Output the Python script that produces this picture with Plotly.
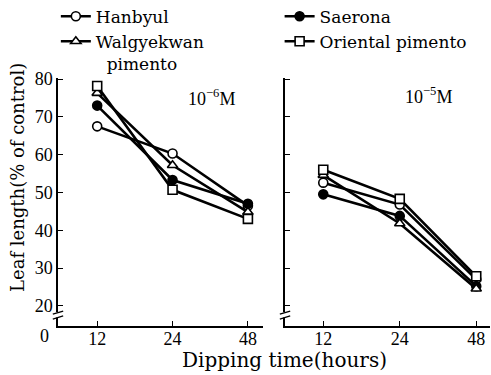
import plotly.graph_objects as go

hours = ["12", "24", "48"]
series_names = ["Hanbyul", "Saerona", "Walgyekwan<br>&nbsp;&nbsp;pimento", "Oriental pimento"]
# 10^-6 M
hanbyul_6 = [67.5, 60.3, 46.5]
saerona_6 = [73.0, 53.3, 47.0]
walgye_6 = [76.3, 57.2, 44.8]
oriental_6 = [78.2, 50.7, 43.0]
# 10^-5 M
hanbyul_5 = [52.6, 46.8, 27.0]
saerona_5 = [49.5, 43.8, 25.2]
walgye_5 = [54.6, 41.8, 24.5]
oriental_5 = [56.0, 48.3, 27.8]

y_tickvals = [20, 30, 40, 50, 60, 70, 80]
y_ticktext = ["20", "30", "40", "50", "60", "70", "80"]

symbols = ["circle-open", "circle", "triangle-up-open", "square-open"]
legend_ids = ["legend", "legend2", "legend", "legend2"]
left_data = [hanbyul_6, saerona_6, walgye_6, oriental_6]
right_data = [hanbyul_5, saerona_5, walgye_5, oriental_5]

FF = "Liberation Serif"
FW = "DejaVu Serif"
fig = go.Figure()
for i, name in enumerate(series_names):
    if symbols[i].endswith("open"):
        mk = dict(symbol=symbols[i].replace("-open", ""), size=9, color="white",
                  line=dict(color="black", width=1.6))
    else:
        mk = dict(symbol=symbols[i], size=9, color="black", line=dict(color="black", width=1.6))
    fig.add_trace(go.Scatter(x=hours, y=left_data[i], mode="lines+markers", name=name,
                             line=dict(color="black", width=2.6), marker=mk,
                             xaxis="x", yaxis="y", legend=legend_ids[i]))
    fig.add_trace(go.Scatter(x=hours, y=right_data[i], mode="lines+markers", name=name,
                             line=dict(color="black", width=2.6), marker=mk,
                             xaxis="x2", yaxis="y2", showlegend=False))

yr = [14.65, 80.3]
axis_common = dict(showline=True, linecolor="black", linewidth=1.5, ticks="inside",
                   ticklen=5, tickwidth=1.3, tickcolor="black", showgrid=False, zeroline=False,
                   tickfont=dict(family=FF, size=18, color="black"))
leg_common = dict(orientation="v", yanchor="top", xanchor="left", xref="paper", yref="paper",
                  font=dict(family=FW, size=17, color="black"), bgcolor="rgba(0,0,0,0)",
                  tracegroupgap=0, traceorder="normal", valign="top")
fig.update_layout(
    width=491, height=375,
    margin=dict(l=58, r=1, t=78, b=49, autoexpand=False),
    plot_bgcolor="white", paper_bgcolor="white",
    font=dict(family=FF, size=17, color="black"),
    xaxis=dict(domain=[0, 0.4745], type="category", range=[-0.52, 2.2], anchor="y",
               ticklabelstandoff=-4, **axis_common),
    xaxis2=dict(domain=[0.5255, 1], type="category", range=[-0.5, 2.18], anchor="y2",
                ticklabelstandoff=-4, **axis_common),
    yaxis=dict(range=yr, tickvals=y_tickvals, ticktext=y_ticktext, anchor="x", **axis_common),
    yaxis2=dict(range=yr, tickvals=y_tickvals, showticklabels=False, anchor="x2", **axis_common),
    legend=dict(x=-0.005, y=1.32, **leg_common),
    legend2=dict(x=0.513, y=1.32, **leg_common),
    showlegend=True,
)

ann = [
    dict(text="10<sup>−6</sup>M", x=0.75, y=0.923, xref="x domain", yref="y domain", showarrow=False,
         xanchor="center", yanchor="middle", font=dict(family=FF, size=18)),
    dict(text="10<sup>−5</sup>M", x=0.70, y=0.928, xref="x2 domain", yref="y2 domain", showarrow=False,
         xanchor="center", yanchor="middle", font=dict(family=FF, size=18)),
    dict(text="Leaf length(% of control)", x=0, y=0.597, xref="paper", yref="paper", xshift=-40,
         xanchor="center", yanchor="middle", showarrow=False, textangle=-90,
         font=dict(family=FW, size=18)),
    dict(text="Dipping time(hours)", x=0.525, y=0, xref="paper", yref="paper", yshift=-34,
         xanchor="center", yanchor="middle", showarrow=False, font=dict(family=FW, size=20)),
    dict(text="0", x=0, y=0, xref="paper", yref="paper", xanchor="right", yanchor="top",
         xshift=-7, yshift=2, showarrow=False, font=dict(family=FF, size=18)),
]
fig.update_layout(annotations=ann)

shapes = []
for xr, yref, xpos in [("paper", "y", 0.0), ("paper", "y2", 0.5255)]:
    shapes.append(dict(type="line", xref=xr, yref=yref, x0=xpos, x1=xpos, y0=16.9, y1=18.3,
                       line=dict(color="white", width=4)))
    for yb in [16.9, 18.2]:
        shapes.append(dict(type="line", xref=xr, yref=yref, x0=xpos - 0.012, x1=xpos + 0.012,
                           y0=yb - 0.4, y1=yb + 0.4, line=dict(color="black", width=1.3)))
fig.update_layout(shapes=shapes)

fig.write_html("out.html")
